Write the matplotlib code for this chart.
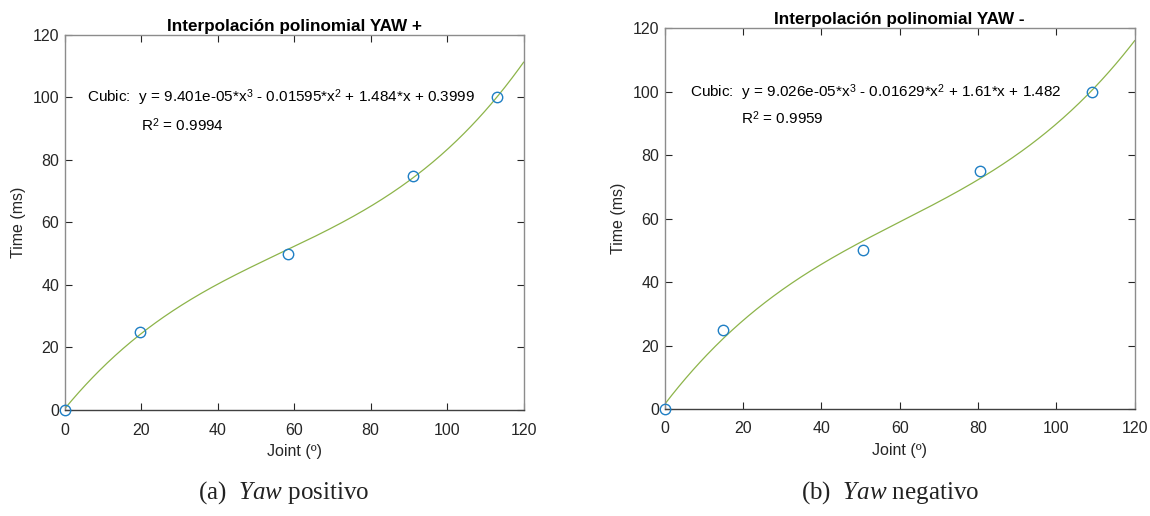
import numpy as np
import matplotlib
matplotlib.use("Agg")
import matplotlib.pyplot as plt

plt.rcParams["font.family"] = ["Liberation Sans", "DejaVu Sans"]
plt.rcParams["mathtext.fontset"] = "custom"
plt.rcParams["mathtext.rm"] = "Liberation Sans"
plt.rcParams["mathtext.it"] = "Liberation Serif:italic"

# Measured samples (joint angle in degrees, time in ms)
joint_pos = [0, 19.7, 58.3, 91.2, 113.0]
time_pos = [0, 25, 50, 75, 100]
joint_neg = [0, 14.9, 50.6, 80.6, 109.2]
time_neg = [0, 25, 50, 75, 100]

# Cubic fit coefficients (highest power first) and goodness of fit
coef_pos = [9.401e-05, -0.01595, 1.484, 0.3999]
coef_neg = [9.026e-05, -0.01629, 1.61, 1.482]
r2_pos = 0.9994
r2_neg = 0.9959

titles = ["Interpolación polinomial YAW +", "Interpolación polinomial YAW -"]
eq_pos = "Cubic:  y = 9.401e-05*x$^3$ - 0.01595*x$^2$ + 1.484*x + 0.3999"
eq_neg = "Cubic:  y = 9.026e-05*x$^3$ - 0.01629*x$^2$ + 1.61*x + 1.482"
ticks = [0, 20, 40, 60, 80, 100, 120]

BLUE = "#1f7fc4"
GREEN = "#8DB44A"
TXT = "#262626"
FS = 11.5
EQ_FS = 11.0

fig = plt.figure(figsize=(11.5, 5.16), dpi=100)
ax1 = fig.add_axes([0.0563, 0.2054, 0.399, 0.727])
ax2 = fig.add_axes([0.578, 0.2074, 0.4087, 0.738])

panels = [
    (ax1, joint_pos, time_pos, coef_pos, r2_pos, eq_pos, titles[0], (5.8, 99.8), (20.0, 91.2)),
    (ax2, joint_neg, time_neg, coef_neg, r2_neg, eq_neg, titles[1], (6.4, 99.8), (19.5, 91.8)),
]

xs = np.linspace(0, 120, 400)
for ax, jx, ty, coef, r2, eq, title, p1, p2 in panels:
    ax.plot(xs, np.polyval(coef, xs), color=GREEN, lw=0.9, zorder=2)
    ax.plot(jx, ty, "o", mfc="none", mec=BLUE, mew=1.0, ms=7.5, clip_on=False, zorder=3)
    ax.set_xlim(0, 120)
    ax.set_ylim(0, 120)
    ax.set_xticks(ticks)
    ax.set_yticks(ticks)
    ax.tick_params(direction="in", length=5, width=0.8, top=True, right=True,
                   labelsize=FS, colors=TXT)
    ax.tick_params(axis="x", pad=9)
    ax.tick_params(axis="y", pad=4)
    for side in ["left", "top", "right"]:
        ax.spines[side].set_color("#8c8c8c")
        ax.spines[side].set_linewidth(1.0)
    ax.spines["bottom"].set_color("#404040")
    ax.spines["bottom"].set_linewidth(1.0)
    ax.set_xlabel("Joint (º)", fontsize=FS, color=TXT, labelpad=5)
    ax.set_ylabel("Time (ms)", fontsize=FS, color=TXT, labelpad=5)
    ax.set_title(title, fontsize=12.3, fontweight="bold", color="black", pad=3)
    ax.text(p1[0], p1[1], eq, fontsize=EQ_FS, color="black", va="center", ha="left")
    ax.text(p2[0], p2[1], "R$^2$ = %.4f" % r2, fontsize=EQ_FS, color="black",
            va="center", ha="left")

cap_font = ["Liberation Serif", "DejaVu Serif"]
for xc, letter, word in [(0.247, "(a)", "positivo"), (0.774, "(b)", "negativo")]:
    fig.text(xc, 0.045, "%s  $\\mathit{Yaw}$ %s" % (letter, word), ha="center", va="center",
             fontsize=18, family=cap_font, color="#222222")

fig.savefig("out.png", dpi=100)
